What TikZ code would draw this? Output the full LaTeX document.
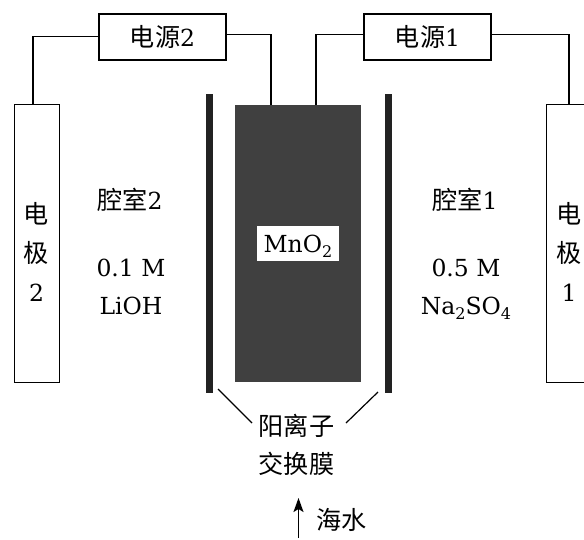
\documentclass[tikz,border=0pt]{standalone}
\usepackage{fontspec}
\usetikzlibrary{arrows.meta}
\setmainfont{DejaVu Serif}
\newfontfamily\cjk[Scale=1.07]{Noto Sans CJK SC}
\definecolor{mnfill}{HTML}{404040}
\definecolor{membc}{HTML}{222222}
\newcommand{\subsc}[1]{\raisebox{-5pt}[0pt][0pt]{\fontsize{16pt}{16pt}\selectfont #1}}
\tikzset{
  lbl/.style={inner sep=0pt,font=\fontsize{23.5pt}{38pt}\selectfont,align=center},
  wire/.style={draw=black,line width=1.6pt,line join=miter},
  boxn/.style={draw=black,line width=1.2pt,fill=white,inner sep=0pt,font=\fontsize{23.5pt}{26pt}\selectfont},
}
\begin{document}
\begin{tikzpicture}[x=1pt,y=-1pt]
\useasboundingbox (0,0) rectangle (584,539);
\fill[white] (0,0) rectangle (584,539);
\path[clip] (0,0) rectangle (584,539);
% electrodes
\node[boxn,minimum width=45pt,minimum height=278pt,anchor=north west] (e2) at (14,104) {};
\node[boxn,minimum width=45pt,minimum height=278pt,anchor=north west] (e1) at (546,104) {};
% MnO2
\node[fill=mnfill,minimum width=126pt,minimum height=277pt,inner sep=0pt,anchor=north west] (mn) at (235,105) {};
\coordinate (t1) at (271,105);
\coordinate (t2) at (316,105);
\coordinate (e2t) at (33,104);
\coordinate (e1t) at (569,104);
% power boxes
\node[boxn,minimum width=127pt,minimum height=46pt] (p2) at (162.5,37) {{\cjk 电源}2};
\node[boxn,minimum width=127pt,minimum height=46pt] (p1) at (427.5,37) {{\cjk 电源}1};
\coordinate (p2l) at (99,36.5);
\coordinate (p2r) at (226,34.5);
\coordinate (p1l) at (364,34.5);
\coordinate (p1r) at (491,34.5);
\draw[wire] (e2t) |- (p2l);
\draw[wire] (p2r) -| (t1);
\draw[wire] (t2) |- (p1l);
\draw[wire] (p1r) -| (e1t);
% membranes
\coordinate (m2a) at (209.7,94); \coordinate (m2b) at (209.7,393);
\coordinate (m1a) at (388.5,94); \coordinate (m1b) at (388.5,393);
\draw[line width=7pt,membc] (m2a) -- (m2b);
\draw[line width=7pt,membc] (m1a) -- (m1b);
% labels
\node[lbl] (el2) at (36.5,252) {{\cjk 电}\\[1pt]{\cjk 极}\\[1pt]2};
\node[lbl] (el1) at (569,252) {{\cjk 电}\\[1pt]{\cjk 极}\\[1pt]1};
\node[lbl] (c2) at (130,200) {{\cjk 腔室}2};
\node[lbl] (c1) at (465,200) {{\cjk 腔室}1};
\node[lbl] (m2) at (131,287) {0.1 M\\LiOH};
\node[lbl] (m1) at (466,287) {0.5 M\\Na\subsc{2}SO\subsc{4}};
\node[fill=white,inner sep=0pt,minimum width=82pt,minimum height=35pt] (mnb) at (298,243.5) {};
\node[lbl] (mno) at (298,243.5) {MnO\subsc{2}};
\node[lbl] (ex) at (296.5,445) {{\cjk 阳离子}\\{\cjk 交换膜}};
\coordinate (l1a) at (218,389); \coordinate (l1b) at (252,423);
\coordinate (l2a) at (378,392); \coordinate (l2b) at (346,423);
\draw[line width=1.2pt] (l1a) -- (l1b);
\draw[line width=1.2pt] (l2a) -- (l2b);
\node[lbl,anchor=west] (sea) at (316,520) {{\cjk 海水}};
\coordinate (a1) at (298.5,538); \coordinate (a2) at (298.5,498);
\draw[line width=1.6pt,-{Stealth[length=14pt,width=10pt,inset=3pt]}] (a1) -- (a2);
\end{tikzpicture}
\end{document}
